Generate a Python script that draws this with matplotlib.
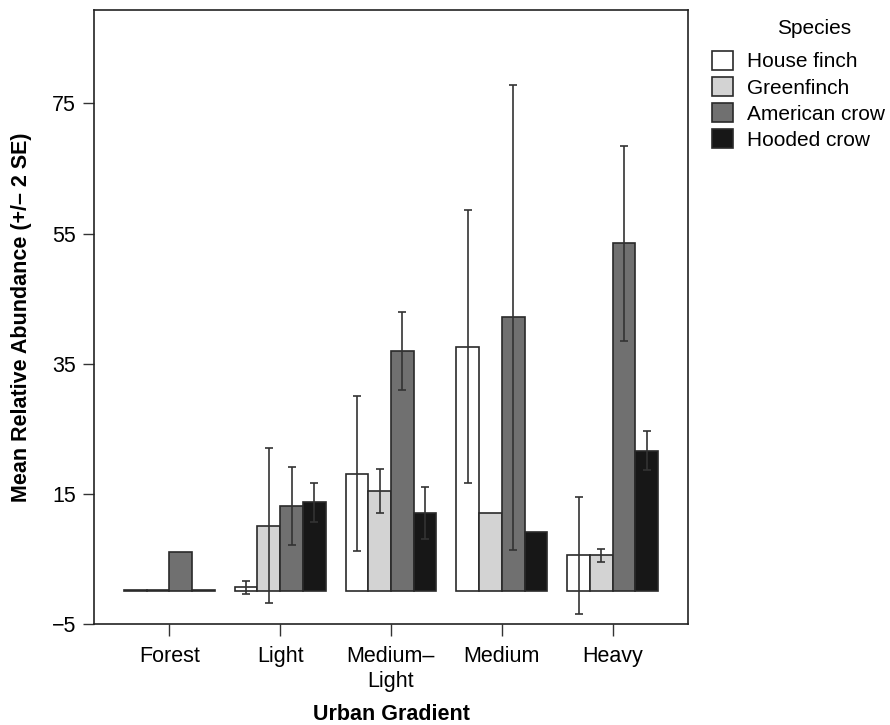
import numpy as np
import matplotlib
matplotlib.use("Agg")
import matplotlib.pyplot as plt
from matplotlib.patches import Patch

plt.rcParams['font.family'] = ['Liberation Sans', 'DejaVu Sans']

categories = ["Forest", "Light", "Medium–\nLight", "Medium", "Heavy"]
species = ["House finch", "Greenfinch", "American crow", "Hooded crow"]
house_finch = [0.2, 0.65, 18.1, 37.6, 5.55]
house_finch_err = [0.0, 1.0, 11.9, 21.0, 9.0]
greenfinch = [0.2, 10.1, 15.4, 12.1, 5.6]
greenfinch_err = [0.0, 11.9, 3.4, 0.0, 1.0]
american_crow = [6.1, 13.1, 37.0, 42.1, 53.5]
american_crow_err = [0.0, 6.0, 6.0, 35.7, 15.0]
hooded_crow = [0.2, 13.7, 12.1, 9.15, 21.6]
hooded_crow_err = [0.0, 3.0, 4.0, 0.0, 3.0]
yticks = [-5, 15, 35, 55, 75]

colors = ["#ffffff", "#d3d3d3", "#707070", "#171717"]
means = [house_finch, greenfinch, american_crow, hooded_crow]
errs = [house_finch_err, greenfinch_err, american_crow_err, hooded_crow_err]

fig = plt.figure(figsize=(8.9, 7.25), dpi=100)
ax = fig.add_axes([94/890, 1-624/725, (688-94)/890, (624-10.3)/725])

x = np.arange(1, len(categories) + 1)
w = 0.205
for i, (m, e, c) in enumerate(zip(means, errs, colors)):
    pos = x + (i - 1.5) * w
    ax.bar(pos, m, width=w, color=c, edgecolor="#2a2a2a", linewidth=1.2, zorder=2)
    m_arr = np.array(m)
    e_arr = np.array(e)
    mask = e_arr > 0
    ax.errorbar(pos[mask], m_arr[mask], yerr=e_arr[mask], fmt="none",
                ecolor="#333333", elinewidth=1.2, capsize=2.8, capthick=1.2, zorder=3)

ax.set_xlim(0.32, 5.68)
ax.set_ylim(-5, 89.3)
ax.set_yticks(yticks)
ax.set_xticks(x)
ax.set_xticklabels(categories, fontsize=15.5, linespacing=1.25)
ax.tick_params(axis="y", labelsize=15.5, length=8, width=1, pad=5, color="#333333")
ax.tick_params(axis="x", length=8.5, width=1, pad=7, color="#333333")
for s in ax.spines.values():
    s.set_linewidth(1.2)
    s.set_color("#222222")

ax.set_xlabel("Urban Gradient", fontsize=15.5, fontweight="bold", va="center")
ax.xaxis.set_label_coords(0.5, -(714 - 624) / 613.7)
ax.set_ylabel("Mean Relative Abundance (+/– 2 SE)", fontsize=15.5, fontweight="bold", labelpad=14)

handles = [Patch(facecolor=c, edgecolor="#2a2a2a", linewidth=1.2) for c in colors]
leg = fig.legend(handles, species, loc="upper left", bbox_to_anchor=(712/890, 1-51/725),
                 frameon=False, fontsize=15, handlelength=1.0, handleheight=1.0,
                 handletextpad=0.7, labelspacing=0.27, borderaxespad=0, borderpad=0)
fig.text(814/890, 1-28/725, "Species", fontsize=15, ha="center", va="center")

fig.savefig("out.png", dpi=100)
